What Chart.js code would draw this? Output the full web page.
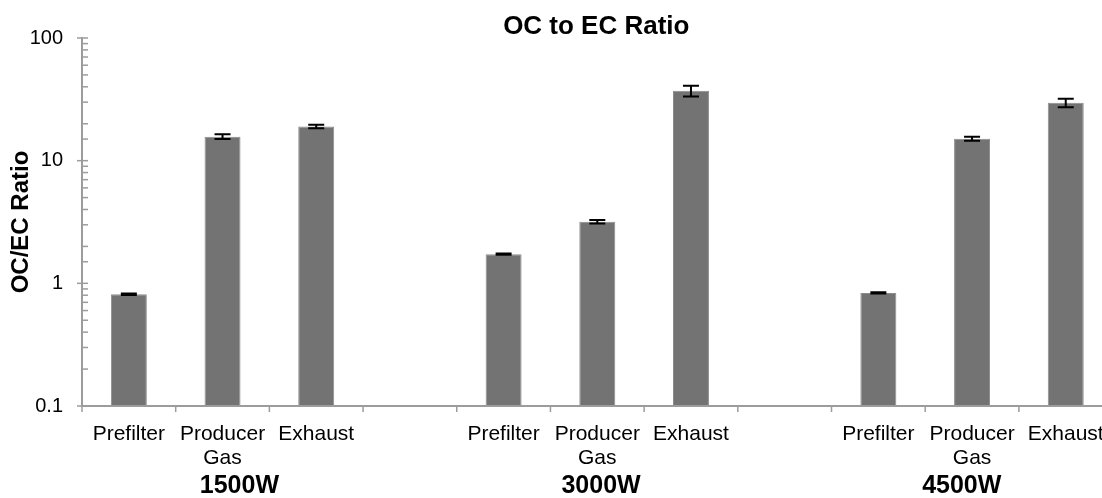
<!DOCTYPE html>
<html>
<head>
<meta charset="utf-8">
<script src="https://cdn.jsdelivr.net/npm/chart.js@4/dist/chart.umd.min.js"></script>
<style>
  body { margin: 0; background: #fff; overflow: hidden; }
  #wrap { position: relative; width: 1120px; height: 498px; }
</style>
</head>
<body>
<div id="wrap"><canvas id="ratio-chart"></canvas></div>
<script>
// data
const groups = ['1500W', '3000W', '4500W'];
const sources = [['Prefilter'], ['Producer', 'Gas'], ['Exhaust']];
const ratio1500 = [0.815, 15.7, 19.0];
const ratio3000 = [1.73, 3.18, 37.1];
const ratio4500 = [0.835, 15.1, 29.6];
const err1500 = [0.01, 0.7, 0.6];
const err3000 = [0.02, 0.11, 3.7];
const err4500 = [0.01, 0.6, 2.3];
const yTickLabels = ['0.1', '1', '10', '100'];
// where the group captions sit, in category units
const groupLabelAt = [1.18, 5.04, 8.89];

const axisColor = '#9c9c9c';
const font = 'Arial, "Liberation Sans", sans-serif';

// build the flat category axis: 3 sources per group, a blank slot between groups
const labels = [];
const values = [];
const errors = [];
const byGroup = [[ratio1500, err1500], [ratio3000, err3000], [ratio4500, err4500]];
byGroup.forEach((g, gi) => {
    sources.forEach((s, si) => {
        labels.push(s);
        values.push(g[0][si]);
        errors.push(g[1][si]);
    });
    if (gi < byGroup.length - 1) {
        labels.push('');
        values.push(null);
        errors.push(null);
    }
});

const decorations = {
    id: 'decorations',
    afterDatasetsDraw(chart) {
        const ctx = chart.ctx;
        const x = chart.scales.x;
        const y = chart.scales.y;
        const meta = chart.getDatasetMeta(0);

        // error bars
        ctx.save();
        ctx.strokeStyle = '#000';
        ctx.lineWidth = 2;
        meta.data.forEach((bar, i) => {
            if (values[i] == null) return;
            const top = y.getPixelForValue(values[i] + errors[i]);
            const bot = y.getPixelForValue(values[i] - errors[i]);
            const cx = bar.x;
            ctx.beginPath();
            ctx.moveTo(cx, top); ctx.lineTo(cx, bot);
            ctx.moveTo(cx - 8, top); ctx.lineTo(cx + 8, top);
            ctx.moveTo(cx - 8, bot); ctx.lineTo(cx + 8, bot);
            ctx.stroke();
        });
        ctx.restore();

        // axes
        const area = chart.chartArea;
        ctx.save();
        ctx.strokeStyle = axisColor;
        ctx.lineWidth = 2;
        ctx.beginPath();
        ctx.moveTo(area.left, area.top - 1);
        ctx.lineTo(area.left, area.bottom);
        ctx.lineTo(area.right + 10, area.bottom);
        ctx.stroke();

        // y ticks: majors cross the axis, minors inside
        ctx.lineWidth = 1.5;
        y.ticks.forEach(t => {
            const py = y.getPixelForValue(t.value);
            const major = yTickLabels.includes(String(t.value));
            ctx.beginPath();
            ctx.moveTo(area.left - (major ? 5 : 0), py);
            ctx.lineTo(area.left + 6, py);
            ctx.stroke();
        });

        // x ticks at category boundaries
        for (let i = 0; i <= labels.length; i++) {
            const px = x.getPixelForValue(i - 0.5);
            ctx.beginPath();
            ctx.moveTo(px, area.bottom);
            ctx.lineTo(px, area.bottom + 6);
            ctx.stroke();
        }
        ctx.restore();

        // title and group captions
        ctx.save();
        ctx.fillStyle = '#000';
        ctx.textAlign = 'center';
        ctx.textBaseline = 'middle';
        ctx.font = 'bold 26px ' + font;
        ctx.fillText('OC to EC Ratio', (area.left + area.right) / 2 - 1, 27);
        ctx.font = 'bold 25px ' + font;
        groups.forEach((g, gi) => {
            ctx.fillText(g, x.getPixelForValue(groupLabelAt[gi]), 486);
        });
        ctx.restore();
    }
};

new Chart(document.getElementById('ratio-chart'), {
    type: 'bar',
    data: {
        labels: labels,
        datasets: [{
            label: 'OC/EC Ratio',
            data: values,
            backgroundColor: '#737373',
            borderColor: '#8c8c8c',
            borderWidth: 1,
            barPercentage: 0.384,
            categoryPercentage: 1
        }]
    },
    options: {
        responsive: true,
        maintainAspectRatio: false,
        animation: false,
        layout: { padding: { top: 38, right: 7, left: 0, bottom: 0 } },
        plugins: {
            legend: { display: false },
            tooltip: { enabled: false }
        },
        scales: {
            x: {
                grid: { display: false, drawTicks: false },
                border: { display: false },
                ticks: {
                    color: '#000',
                    font: { family: font, size: 21, lineHeight: 1.15 },
                    padding: 16,
                    autoSkip: false,
                    maxRotation: 0
                },
                afterFit(scale) { scale.height = 92; }
            },
            y: {
                type: 'logarithmic',
                min: 0.1,
                max: 100,
                grid: { display: false, drawTicks: false },
                border: { display: false },
                ticks: {
                    color: '#000',
                    font: { family: font, size: 20 },
                    padding: 19,
                    autoSkip: false,
                    callback: v => yTickLabels.includes(String(v)) ? String(v) : ''
                },
                title: {
                    display: true,
                    text: 'OC/EC Ratio',
                    color: '#000',
                    font: { family: font, size: 24, weight: 'bold' },
                    padding: { top: 7, bottom: 0 }
                },
                afterFit(scale) { scale.width = 82; }
            }
        }
    },
    plugins: [decorations]
});
</script>
</body>
</html>
